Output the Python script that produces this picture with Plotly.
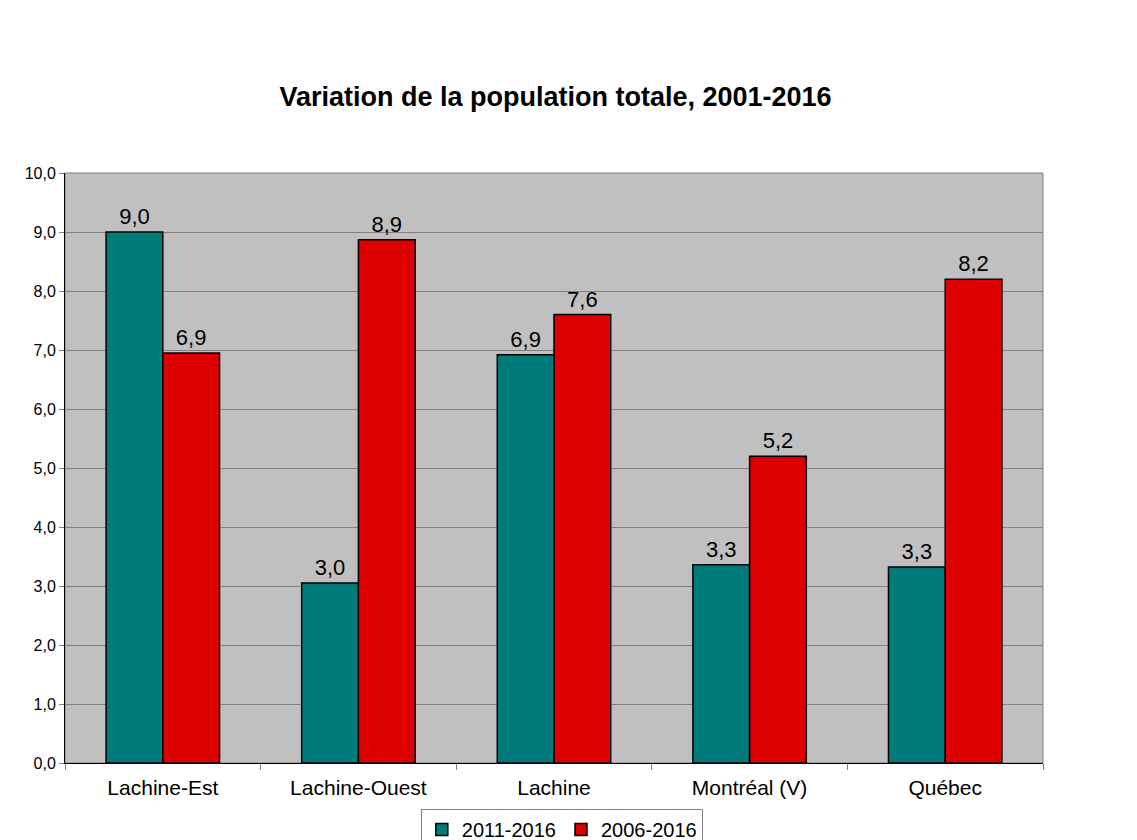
import plotly.graph_objects as go

categories = ["Lachine-Est", "Lachine-Ouest", "Lachine", "Montréal (V)", "Québec"]
series_names = ["2011-2016", "2006-2016"]
values_2011_2016 = [9.0, 3.05, 6.92, 3.36, 3.32]
values_2006_2016 = [6.95, 8.87, 7.6, 5.2, 8.2]
labels_2011_2016 = ["9,0", "3,0", "6,9", "3,3", "3,3"]
labels_2006_2016 = ["6,9", "8,9", "7,6", "5,2", "8,2"]
y_ticks = [0, 1, 2, 3, 4, 5, 6, 7, 8, 9, 10]

font_family = "Liberation Sans, Arial, sans-serif"

fig = go.Figure()
fig.add_trace(go.Bar(
    x=categories, y=values_2011_2016, name=series_names[0],
    marker=dict(color="#007B7B", line=dict(color="#000000", width=1.5)),
    text=labels_2011_2016, textposition="outside", cliponaxis=False,
    textfont=dict(size=22, color="#000000", family=font_family),
))
fig.add_trace(go.Bar(
    x=categories, y=values_2006_2016, name=series_names[1],
    marker=dict(color="#DD0000", line=dict(color="#000000", width=1.5)),
    text=labels_2006_2016, textposition="outside", cliponaxis=False,
    textfont=dict(size=22, color="#000000", family=font_family),
))

fig.update_layout(
    width=1129, height=832,
    paper_bgcolor="#FFFFFF", plot_bgcolor="#C0C0C0",
    margin=dict(l=57, r=94, t=165, b=77, autoexpand=False),
    barmode="group", bargap=0.42, bargroupgap=0,
    separators=", ",
    font=dict(family=font_family, color="#000000"),
    title=dict(
        text="<b>Variation de la population totale, 2001-2016</b>",
        x=0.485, xanchor="center", y=1 - 89 / 832, yanchor="middle",
        font=dict(size=27, family=font_family, color="#000000"),
    ),
    showlegend=True,
    legend=dict(
        orientation="h", x=0.508, xanchor="center",
        yref="container", y=1 - (809 - 8) / 832, yanchor="top",
        bordercolor="#808080", borderwidth=1, bgcolor="#FFFFFF",
        font=dict(size=20, family=font_family), itemwidth=30,
        traceorder="normal",
    ),
    xaxis=dict(
        showline=True, linecolor="#000000", linewidth=1,
        ticks="outside", tickson="boundaries", ticklen=6, tickcolor="#808080",
        tickfont=dict(size=21, family=font_family), showgrid=False,
        ticklabelstandoff=6,
    ),
    yaxis=dict(
        range=[0, 10], tickvals=y_ticks, tickformat=".1f",
        showline=True, linecolor="#000000", linewidth=1,
        ticks="outside", ticklen=5, tickcolor="#808080",
        tickfont=dict(size=16, family=font_family),
        showgrid=True, gridcolor="#808080", gridwidth=1, zeroline=False,
    ),
    shapes=[dict(type="rect", xref="paper", yref="paper", x0=0, x1=1, y0=0, y1=1,
                 line=dict(color="#808080", width=1), layer="below")],
)

fig.write_html("out.html")
